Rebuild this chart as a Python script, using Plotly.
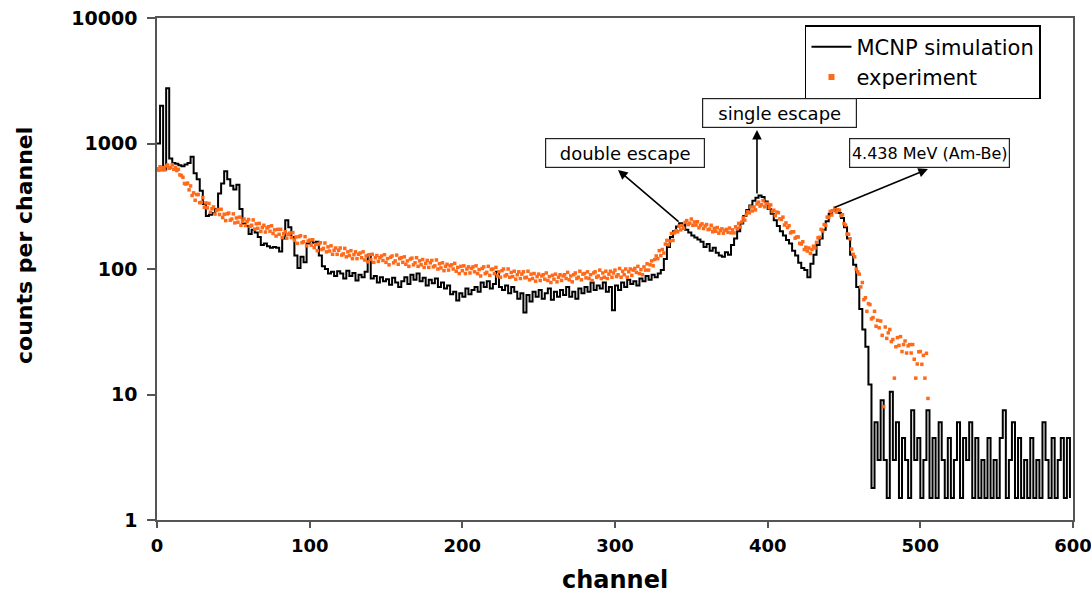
import plotly.graph_objects as go

# ---------------- data ----------------
# MCNP simulation, counts per channel at every second channel (0, 2, 4, ...)
sim_counts = [
    1000, 2000, 620, 2750, 760, 700, 690, 670, 660, 680,
    700, 785, 580, 520, 420, 330, 265, 270, 280, 300,
    400, 480, 600, 520, 460, 430, 470, 300, 230, 220,
    190, 205, 195, 180, 155, 160, 152, 148, 150, 148,
    138, 175, 245, 215, 180, 128, 102, 125, 113, 160,
    168, 162, 165, 128, 105, 100, 92, 95, 88, 96,
    92, 84, 97, 88, 93, 81, 90, 86, 95, 130,
    84, 88, 78, 86, 80, 83, 75, 85, 78, 72,
    80, 86, 76, 90, 82, 92, 80, 85, 74, 82,
    77, 84, 72, 78, 70, 74, 63, 66, 56, 64,
    60, 70, 63, 68, 72, 66, 78, 72, 80, 70,
    76, 95, 72, 68, 74, 64, 72, 66, 58, 64,
    45, 62, 55, 66, 60, 68, 58, 64, 70, 57,
    66, 60, 68, 62, 72, 60, 66, 58, 70, 64,
    72, 66, 78, 68, 74, 70, 78, 66, 72, 47,
    74, 68, 78, 72, 82, 76, 80, 74, 84, 80,
    88, 82, 90, 86, 92, 98, 120, 150, 180, 200,
    218, 232, 225, 205, 195, 185, 178, 172, 165, 150,
    158, 140, 148, 135, 128, 125, 136, 130, 155, 175,
    200, 230, 265, 295, 320, 350, 370, 385, 375, 345,
    300, 275, 245, 220, 200, 185, 170, 160, 140, 128,
    112, 102, 98, 86, 110, 130, 155, 175, 205, 240,
    275, 292, 298, 280, 255, 215, 175, 130, 108, 72,
    48, 33, 24, 12, 1.8, 6, 3, 9, 3, 1.5,
    10.5, 3, 6, 1.5, 4.5, 3, 1.5, 7.5, 3, 4.5,
    1.5, 3, 7.5, 1.5, 4.5, 1.5, 6, 3, 1.5, 4.5,
    1.5, 3, 6, 1.5, 4.5, 3, 6, 1.5, 4.5, 1.5,
    3, 1.5, 4.5, 1.5, 3, 1.5, 4.5, 7.5, 1.5, 3,
    6, 1.5, 4.5, 1.5, 3, 1.5, 4.5, 1.5, 3, 1.5,
    6, 3, 1.5, 4.5, 1.5, 3, 4.5, 1.5, 4.5, 1.5,
]
sim_channels = list(range(0, 2 * len(sim_counts), 2))

# Experiment, counts per channel at every channel (0, 1, 2, ...)
exp_counts = [
    630, 613, 653, 616, 643, 616, 661, 673, 634, 644, 679, 622, 645, 608, 623, 562, 555, 538, 480, 475,
    483, 427, 459, 385, 404, 353, 392, 392, 337, 340, 371, 310, 336, 307, 333, 283, 302, 312, 274, 293,
    298, 272, 299, 257, 273, 243, 275, 279, 245, 250, 275, 233, 255, 236, 259, 223, 240, 250, 222, 239,
    248, 219, 223, 246, 208, 229, 211, 231, 199, 214, 223, 197, 212, 217, 200, 221, 192, 205, 183, 207,
    189, 207, 178, 191, 198, 176, 189, 193, 178, 195, 169, 180, 160, 181, 184, 162, 165, 181, 153, 167,
    170, 155, 171, 148, 157, 140, 158, 162, 143, 146, 161, 137, 150, 139, 153, 131, 141, 147, 131, 141,
    147, 129, 132, 146, 125, 137, 128, 140, 121, 130, 137, 121, 131, 134, 123, 137, 118, 127, 114, 130,
    119, 131, 113, 123, 128, 115, 123, 127, 117, 130, 113, 121, 108, 124, 127, 112, 116, 129, 109, 121,
    123, 113, 125, 109, 116, 105, 120, 122, 108, 112, 123, 105, 116, 108, 119, 103, 111, 117, 103, 112,
    117, 104, 106, 118, 100, 110, 102, 112, 97, 105, 109, 98, 106, 108, 100, 111, 96, 103, 92, 105,
    97, 106, 92, 100, 104, 93, 101, 104, 95, 106, 92, 99, 88, 101, 104, 92, 94, 105, 89, 99,
    100, 92, 103, 88, 95, 86, 97, 100, 88, 90, 100, 86, 94, 87, 96, 83, 90, 95, 84, 91,
    95, 85, 86, 96, 82, 91, 84, 92, 80, 87, 91, 81, 88, 90, 83, 93, 81, 87, 78, 89,
    83, 91, 79, 86, 90, 81, 88, 90, 84, 94, 82, 88, 79, 90, 93, 84, 86, 96, 82, 91,
    92, 85, 95, 84, 90, 81, 93, 95, 86, 88, 98, 84, 93, 86, 96, 84, 91, 96, 86, 93,
    98, 87, 90, 101, 86, 96, 90, 100, 86, 95, 100, 89, 98, 101, 94, 105, 92, 99, 90, 104,
    98, 110, 98, 108, 116, 106, 119, 127, 121, 140, 128, 143, 134, 158, 169, 156, 167, 192, 169, 194,
    202, 198, 220, 205, 222, 211, 235, 243, 226, 232, 250, 223, 237, 224, 238, 213, 223, 229, 210, 220,
    226, 206, 208, 223, 198, 211, 200, 214, 193, 203, 209, 193, 203, 207, 196, 212, 194, 205, 194, 217,
    210, 231, 216, 237, 255, 245, 270, 286, 280, 312, 290, 312, 296, 330, 341, 317, 325, 351, 313, 333,
    331, 307, 324, 287, 294, 266, 284, 281, 251, 248, 259, 224, 233, 214, 221, 194, 198, 198, 176, 180,
    180, 160, 158, 165, 143, 149, 139, 147, 133, 143, 152, 147, 163, 177, 179, 207, 201, 226, 223, 259,
    258, 288, 269, 292, 306, 284, 296, 294, 266, 271, 230, 224, 190, 189, 174, 144, 131, 125, 100, 95,
    91, 72, 78, 57, 59, 46, 53, 52, 40, 41, 46, 35, 39, 34, 38.5, 29.6, 8, 34.5, 28, 31,
    33, 26.4, 27.4, 13.5, 24, 28.4, 24.6, 28.9, 22, 25, 26.7, 21.4, 24.4, 25, 21.4, 25, 19.1, 13.5,
    17.5, 21.9, 22, 17.4, 20.5, 13.5, 21.3, 9.3,
]
exp_channels = list(range(len(exp_counts)))

x_ticks = [0, 100, 200, 300, 400, 500, 600]
y_ticks = [1, 10, 100, 1000, 10000]
y_tick_labels = ["1", "10", "100", "1000", "10000"]

ORANGE = "#FF6A1A"
AX = "#555555"

fig = go.Figure()
fig.add_trace(go.Scatter(
    x=sim_channels, y=sim_counts, mode="lines", name="MCNP simulation",
    line=dict(color="black", width=2, shape="hv"), legendrank=1,
))
fig.add_trace(go.Scatter(
    x=exp_channels, y=exp_counts, mode="markers", name="experiment",
    marker=dict(symbol="square", size=3.5, color=ORANGE, line=dict(width=0)),
    showlegend=False,
))
# legend entry for the experiment with a larger swatch
fig.add_trace(go.Scatter(
    x=[None], y=[None], mode="markers", name="experiment",
    marker=dict(symbol="square", size=6, color=ORANGE), legendrank=2,
))

fig.update_xaxes(
    range=[0, 600], tickvals=x_ticks, ticks="outside", ticklen=6, tickwidth=1.5,
    tickcolor=AX, showline=True, linecolor=AX, linewidth=1.5, mirror=True,
    showgrid=False, zeroline=False,
    tickfont=dict(family="DejaVu Sans", size=18, color="black", weight="bold"),
    ticklabelstandoff=3, automargin=False, ticklabeloverflow="allow",
)
fig.update_yaxes(
    type="log", range=[0, 4], tickvals=y_ticks, ticktext=y_tick_labels,
    ticks="outside", ticklen=8, tickwidth=1.5, tickcolor=AX, showline=True,
    linecolor=AX, linewidth=1.5, mirror=True, showgrid=False, zeroline=False,
    tickfont=dict(family="DejaVu Sans", size=19, color="black", weight="bold"),
    ticklabelstandoff=6, automargin=False, ticklabeloverflow="allow",
)

box_font = dict(family="DejaVu Sans", size=18, color="black")
box_font_small = dict(family="DejaVu Sans", size=16, color="black")
annotations = [
    # axis titles
    dict(x=0.5, y=-0.12, xref="paper", yref="paper", text="channel", showarrow=False,
         font=dict(family="DejaVu Sans", size=24, color="black", weight="bold"),
         xanchor="center", yanchor="middle"),
    dict(x=-0.144, y=0.546, xref="paper", yref="paper", text="counts per channel",
         showarrow=False, textangle=-90,
         font=dict(family="DejaVu Sans", size=22, color="black", weight="bold"),
         xanchor="center", yanchor="middle"),
    # arrows (head at the label box, tail at the peak)
    dict(x=302.0, y=2.789, ax=342.6, ay=2.367, xref="x", yref="y", axref="x", ayref="y",
         text="", showarrow=True, arrowhead=2, arrowsize=1.2, arrowwidth=1.6, arrowcolor="black"),
    dict(x=393.0, y=3.108, ax=393.0, ay=2.590, xref="x", yref="y", axref="x", ayref="y",
         text="", showarrow=True, arrowhead=2, arrowsize=1.2, arrowwidth=1.6, arrowcolor="black"),
    dict(x=505.0, y=2.797, ax=442.8, ay=2.486, xref="x", yref="y", axref="x", ayref="y",
         text="", showarrow=True, arrowhead=2, arrowsize=1.2, arrowwidth=1.6, arrowcolor="black"),
    # label boxes
    dict(x=306.5, y=2.924, xref="x", yref="y", text="double escape", showarrow=False,
         font=box_font, bgcolor="white", bordercolor="#222222", borderwidth=1.2,
         borderpad=1, width=156, height=26),
    dict(x=407.7, y=3.243, xref="x", yref="y", text="single escape", showarrow=False,
         font=box_font, bgcolor="white", bordercolor="#222222", borderwidth=1.2,
         borderpad=1, width=151, height=26),
    dict(x=506.0, y=2.924, xref="x", yref="y", text="4.438 MeV (Am-Be)", showarrow=False,
         font=box_font_small, bgcolor="white", bordercolor="#222222", borderwidth=1.2,
         borderpad=1, width=157, height=26),
]

fig.update_layout(
    width=1091, height=594, autosize=False,
    margin=dict(l=157, r=18, t=18, b=74),
    paper_bgcolor="white", plot_bgcolor="white",
    annotations=annotations,
    legend=dict(
        x=0.7074, y=0.986, xanchor="left", yanchor="top",
        bgcolor="white", bordercolor="black", borderwidth=1.5,
        font=dict(family="DejaVu Sans", size=21, color="black"),
        tracegroupgap=0, itemwidth=40,
    ),
    showlegend=True,
)

# remove the default 8 px page margin so the figure sits at the window's corner
fig.write_html(
    "out.html",
    config={"displayModeBar": False},
    post_script="document.body.style.margin='0';document.body.style.overflow='hidden';",
)
